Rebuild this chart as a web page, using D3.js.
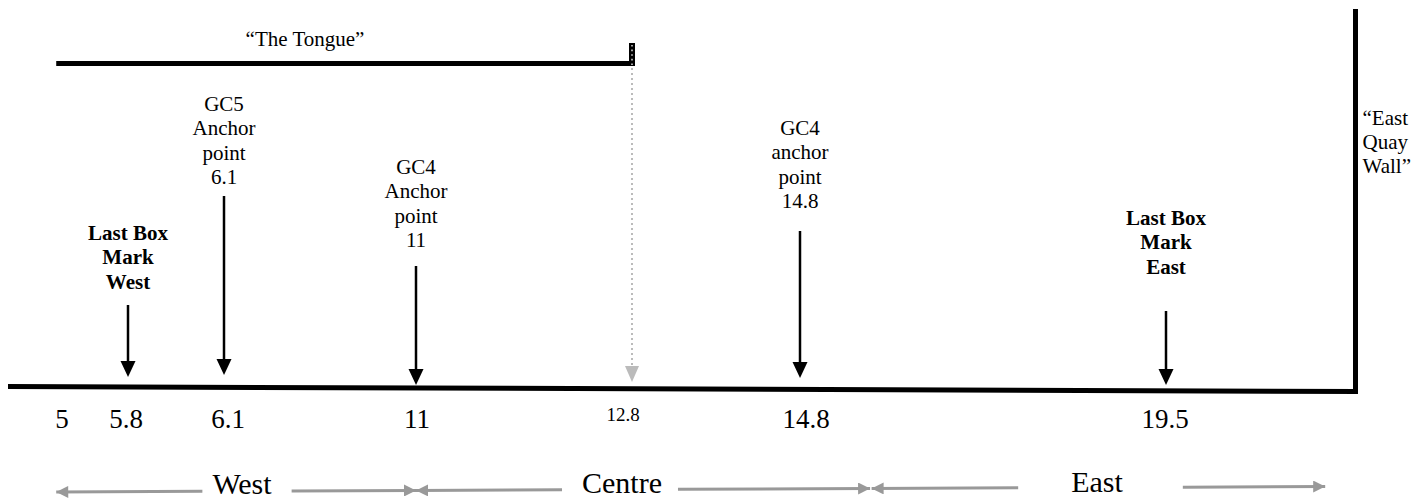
<!DOCTYPE html>
<html>
<head>
<meta charset="utf-8">
<script src="https://cdn.jsdelivr.net/npm/d3@7"></script>
<style>
  body { margin: 0; background: #fff; }
  text { font-family: "Liberation Serif", "Times New Roman", serif; fill: #000; }
</style>
</head>
<body>
<script>
// chainage values along the quay (schematic, not to scale)
var stops = [5, 5.8, 6.1, 11, 12.8, 14.8, 19.5, 22];

// tick labels under the base line
var tickValues = [5, 5.8, 6.1, 11, 12.8, 14.8, 19.5];
var tickLabels = ["5", "5.8", "6.1", "11", "12.8", "14.8", "19.5"];

// marker arrows and their labels
var markerValues = [5.8, 6.1, 11, 14.8, 19.5];
var markerLabels = [
    ["Last Box", "Mark", "West"],
    ["GC5", "Anchor", "point", "6.1"],
    ["GC4", "Anchor", "point", "11"],
    ["GC4", "anchor", "point", "14.8"],
    ["Last Box", "Mark", "East"]
];
var markerBold = [true, false, false, false, true];

// the tongue and the end of the tongue
var tongueStart = 4.93;
var tongueEnd = 12.8;
var tongueLabel = "\u201CThe Tongue\u201D";
var wallValue = 22;
var wallLabel = ["\u201CEast", "Quay", "Wall\u201D"];

// sections
var regionNames = ["West", "Centre", "East"];
var regionStart = [4.93, 11, 15.72];
var regionEnd = [11, 15.7, 21.6];

// ---- layout ----
var width = 1425, height = 500;
var labelTop = [240, 111, 174, 135, 225];
var arrowTop = [305, 196, 266, 231, 311];
var arrowTip = [377, 375, 385, 378, 385];
var tickDx = [0, -2, 4, 1, -9, 6, -1];
var regionTextX = [242, 622, 1097];
var regionGap = [[10, 20], [20, 16], [53, 60]];

// piecewise scale, the drawing is schematic
var x = d3.scaleLinear()
    .domain(stops)
    .range([62, 128, 224, 416, 632, 800, 1166, 1355.5]);

var svg = d3.select("body")
    .append("svg")
    .attr("width", width)
    .attr("height", height);

var defs = svg.append("defs");

// base line, slightly tilted as in the original
var baseY = d3.scaleLinear().domain([8, 1358]).range([386.5, 391.5]);
svg.append("line")
    .attr("x1", 8).attr("y1", baseY(8))
    .attr("x2", x(wallValue) + 2.5).attr("y2", baseY(x(wallValue) + 2.5))
    .attr("stroke", "#000").attr("stroke-width", 5);

// quay wall
svg.append("line")
    .attr("x1", x(wallValue)).attr("y1", 9)
    .attr("x2", x(wallValue)).attr("y2", baseY(x(wallValue)) + 2.5)
    .attr("stroke", "#000").attr("stroke-width", 5);

svg.selectAll(".wall-label")
    .data(wallLabel)
    .enter()
    .append("text")
    .attr("class", "wall-label")
    .attr("x", x(wallValue) + 7)
    .attr("y", function(d, i) { return 125 + i * 24; })
    .style("font-size", "21px")
    .text(function(d) { return d; });

// the tongue
svg.append("line")
    .attr("x1", x(tongueStart)).attr("y1", 63.5)
    .attr("x2", x(tongueEnd) + 3).attr("y2", 63.5)
    .attr("stroke", "#000").attr("stroke-width", 5);

svg.append("rect")
    .attr("x", x(tongueEnd) - 3).attr("y", 43)
    .attr("width", 6).attr("height", 23)
    .attr("fill", "#000");
svg.append("line")
    .attr("x1", x(tongueEnd)).attr("y1", 45)
    .attr("x2", x(tongueEnd)).attr("y2", 66)
    .attr("stroke", "#ccc").attr("stroke-width", 1.6)
    .attr("stroke-dasharray", "1.6,3");

svg.append("text")
    .attr("x", 305).attr("y", 46)
    .attr("text-anchor", "middle")
    .style("font-size", "21px")
    .text(tongueLabel);

// dotted grey drop from the tongue end
svg.append("line")
    .attr("x1", x(tongueEnd)).attr("y1", 68)
    .attr("x2", x(tongueEnd)).attr("y2", 368)
    .attr("stroke", "#bbb").attr("stroke-width", 2)
    .attr("stroke-dasharray", "2,3");
svg.append("path")
    .attr("d", d3.line()([[x(tongueEnd) - 7, 366], [x(tongueEnd) + 7, 366], [x(tongueEnd), 382]]))
    .attr("fill", "#bbb");

// marker arrows
var markers = svg.selectAll(".marker")
    .data(markerValues)
    .enter()
    .append("g")
    .attr("class", "marker");

markers.append("line")
    .attr("x1", function(d) { return x(d); })
    .attr("x2", function(d) { return x(d); })
    .attr("y1", function(d, i) { return arrowTop[i]; })
    .attr("y2", function(d, i) { return arrowTip[i] - 12; })
    .attr("stroke", "#000").attr("stroke-width", 2.5);

markers.append("path")
    .attr("d", function(d, i) {
        var cx = x(d), t = arrowTip[i];
        return d3.line()([[cx - 7.5, t - 16], [cx + 7.5, t - 16], [cx, t]]) + "Z";
    })
    .attr("fill", "#000");

markers.each(function(d, i) {
    var g = d3.select(this);
    g.selectAll("text")
        .data(markerLabels[i])
        .enter()
        .append("text")
        .attr("x", x(d))
        .attr("y", function(s, j) { return labelTop[i] + j * 24.3; })
        .attr("text-anchor", "middle")
        .style("font-size", "21px")
        .style("font-weight", markerBold[i] ? "bold" : "normal")
        .text(function(s) { return s; });
});

// tick labels
svg.selectAll(".tick-label")
    .data(tickValues)
    .enter()
    .append("text")
    .attr("class", "tick-label")
    .attr("x", function(d, i) { return x(d) + tickDx[i]; })
    .attr("y", function(d) { return d === 12.8 ? 421 : 428; })
    .attr("text-anchor", "middle")
    .style("font-size", function(d) { return d === 12.8 ? "19px" : "27px"; })
    .text(function(d, i) { return tickLabels[i]; });

// section arrows
var grey = "#999";
defs.append("marker")
    .attr("id", "head")
    .attr("viewBox", "0 0 10 10")
    .attr("refX", 10).attr("refY", 5)
    .attr("markerUnits", "userSpaceOnUse")
    .attr("markerWidth", 16).attr("markerHeight", 12)
    .attr("orient", "auto")
    .append("path")
    .attr("d", "M0,0L10,5L0,10Z")
    .attr("fill", grey);

var regionY = d3.scaleLinear().domain([56, 1328]).range([492, 486.5]);

regionNames.forEach(function(name, i) {
    var tx = regionTextX[i];
    var label = svg.append("text")
        .attr("x", tx).attr("y", 494 - i)
        .attr("text-anchor", "middle")
        .style("font-size", "30px")
        .text(name);
    var half = label.node().getComputedTextLength() / 2;
    var x0 = x(regionStart[i]), x1 = x(regionEnd[i]);
    var leftEnd = tx - half - regionGap[i][0];
    var rightStart = tx + half + regionGap[i][1];

    svg.append("line")
        .attr("x1", leftEnd).attr("y1", regionY(leftEnd))
        .attr("x2", x0).attr("y2", regionY(x0))
        .attr("stroke", grey).attr("stroke-width", 3)
        .attr("marker-end", "url(#head)");
    svg.append("line")
        .attr("x1", rightStart).attr("y1", regionY(rightStart))
        .attr("x2", x1).attr("y2", regionY(x1))
        .attr("stroke", grey).attr("stroke-width", 3)
        .attr("marker-end", "url(#head)");
});
</script>
</body>
</html>
